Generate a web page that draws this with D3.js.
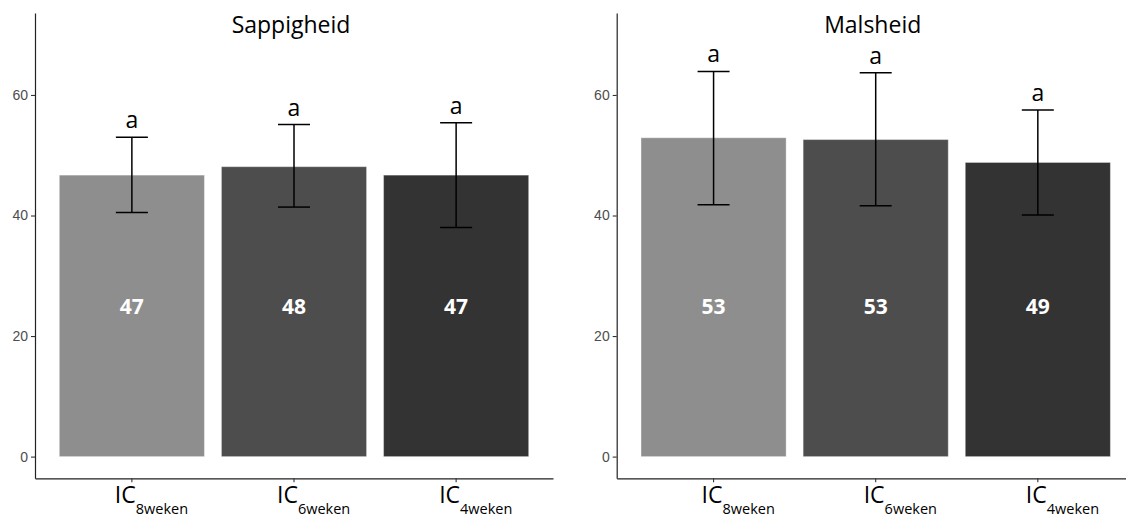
<!DOCTYPE html>
<html>
<head>
<meta charset="utf-8">
<script src="https://cdn.jsdelivr.net/npm/d3@7"></script>
<style>
  body { margin: 0; background: #fff; }
  svg { display: block; }
</style>
</head>
<body>
<svg id="chart" width="1126" height="517"></svg>
<script>
const categories = ['8weken', '6weken', '4weken'];
const yTicks = [0, 20, 40, 60];
const barColors = ['#8e8e8e', '#4d4d4d', '#333333'];

const sappigheidMeans = [46.7, 48.1, 46.7];
const sappigheidLower = [40.5, 41.4, 38.0];
const sappigheidUpper = [53.0, 55.1, 55.4];
const sappigheidLetters = ['a', 'a', 'a'];

const malsheidMeans = [52.9, 52.6, 48.8];
const malsheidLower = [41.8, 41.6, 40.1];
const malsheidUpper = [63.9, 63.7, 57.5];
const malsheidLetters = ['a', 'a', 'a'];

const valueLabelAt = 25;

function renderPanel(title, means, lower, upper, letters, left, labelShift) {
    const svg = d3.select('#chart');
    const width = 518;

    const x = d3.scaleBand().domain(categories).range([left, left + width])
        .paddingInner(0.105).paddingOuter(0.15);
    const y = d3.scaleLinear().domain([-3.6, 73.6]).range([478.3, 13]);

    const rows = categories.map((c, i) => ({
        cat: c, mean: means[i], lo: lower[i], hi: upper[i], letter: letters[i], color: barColors[i]
    }));

    const g = svg.append('g');

    // bars
    g.selectAll('rect.bar').data(rows).enter().append('rect')
        .attr('class', 'bar')
        .attr('x', d => x(d.cat))
        .attr('width', x.bandwidth())
        .attr('y', d => y(d.mean))
        .attr('height', d => y(0) - y(d.mean))
        .attr('fill', d => d.color)
        .attr('stroke', '#ffffff')
        .attr('stroke-opacity', 0.35)
        .attr('stroke-width', 1);

    // error bars
    const cx = d => x(d.cat) + x.bandwidth() / 2;
    const err = g.selectAll('g.err').data(rows).enter().append('g')
        .attr('stroke', '#000').attr('stroke-width', 1.5);
    err.append('line').attr('x1', cx).attr('x2', cx).attr('y1', d => y(d.lo)).attr('y2', d => y(d.hi));
    err.append('line').attr('x1', d => cx(d) - 16).attr('x2', d => cx(d) + 16).attr('y1', d => y(d.hi)).attr('y2', d => y(d.hi));
    err.append('line').attr('x1', d => cx(d) - 16).attr('x2', d => cx(d) + 16).attr('y1', d => y(d.lo)).attr('y2', d => y(d.lo));

    // significance letters
    g.selectAll('text.letter').data(rows).enter().append('text')
        .attr('x', cx).attr('y', d => y(d.hi) - 9)
        .attr('text-anchor', 'middle')
        .style('font-family', '"Open Sans", sans-serif').style('font-size', '23px')
        .attr('fill', '#000')
        .text(d => d.letter);

    // value labels
    g.selectAll('text.value').data(rows).enter().append('text')
        .attr('x', cx).attr('y', y(valueLabelAt))
        .attr('text-anchor', 'middle').attr('dominant-baseline', 'central')
        .style('font-family', '"Open Sans", sans-serif').style('font-size', '21px').style('font-weight', 'bold')
        .attr('fill', '#fff')
        .text(d => Math.round(d.mean));

    // y axis
    const yAxis = g.append('g').attr('transform', `translate(${left},0)`)
        .call(d3.axisLeft(y).tickValues(yTicks).tickSize(4).tickSizeOuter(0).tickPadding(3));
    yAxis.select('.domain').attr('stroke', '#222').attr('stroke-width', 1.2);
    yAxis.selectAll('.tick line').attr('stroke', '#333').attr('stroke-width', 1.1);
    yAxis.selectAll('.tick text')
        .style('font-family', '"Liberation Sans", Arial, sans-serif').style('font-size', '14px')
        .attr('fill', '#4d4d4d');

    // x axis
    const xAxis = g.append('g').attr('transform', `translate(0,${y.range()[0]})`)
        .call(d3.axisBottom(x).tickSize(4).tickSizeOuter(0));
    xAxis.select('.domain').attr('stroke', '#222').attr('stroke-width', 1.2);
    xAxis.selectAll('.tick line').attr('stroke', '#333').attr('stroke-width', 1.1);
    xAxis.selectAll('.tick text').remove();
    const lab = xAxis.selectAll('.tick').append('text')
        .attr('x', -labelShift).attr('y', 25)
        .attr('text-anchor', 'start')
        .attr('fill', '#000')
        .style('font-family', '"Open Sans", sans-serif');
    lab.append('tspan').style('font-size', '23px').text('IC');
    lab.append('tspan').attr('dy', 11).style('font-size', '14.5px').text(d => d);

    // title
    g.append('text')
        .attr('x', left + width / 2 - 3).attr('y', 33)
        .attr('text-anchor', 'middle')
        .style('font-family', '"Open Sans", sans-serif').style('font-size', '23px')
        .attr('fill', '#000')
        .text(title);
}

renderPanel('Sappigheid', sappigheidMeans, sappigheidLower, sappigheidUpper, sappigheidLetters, 35, 17);
renderPanel('Malsheid', malsheidMeans, malsheidLower, malsheidUpper, malsheidLetters, 616.7, 12);
</script>
</body>
</html>
